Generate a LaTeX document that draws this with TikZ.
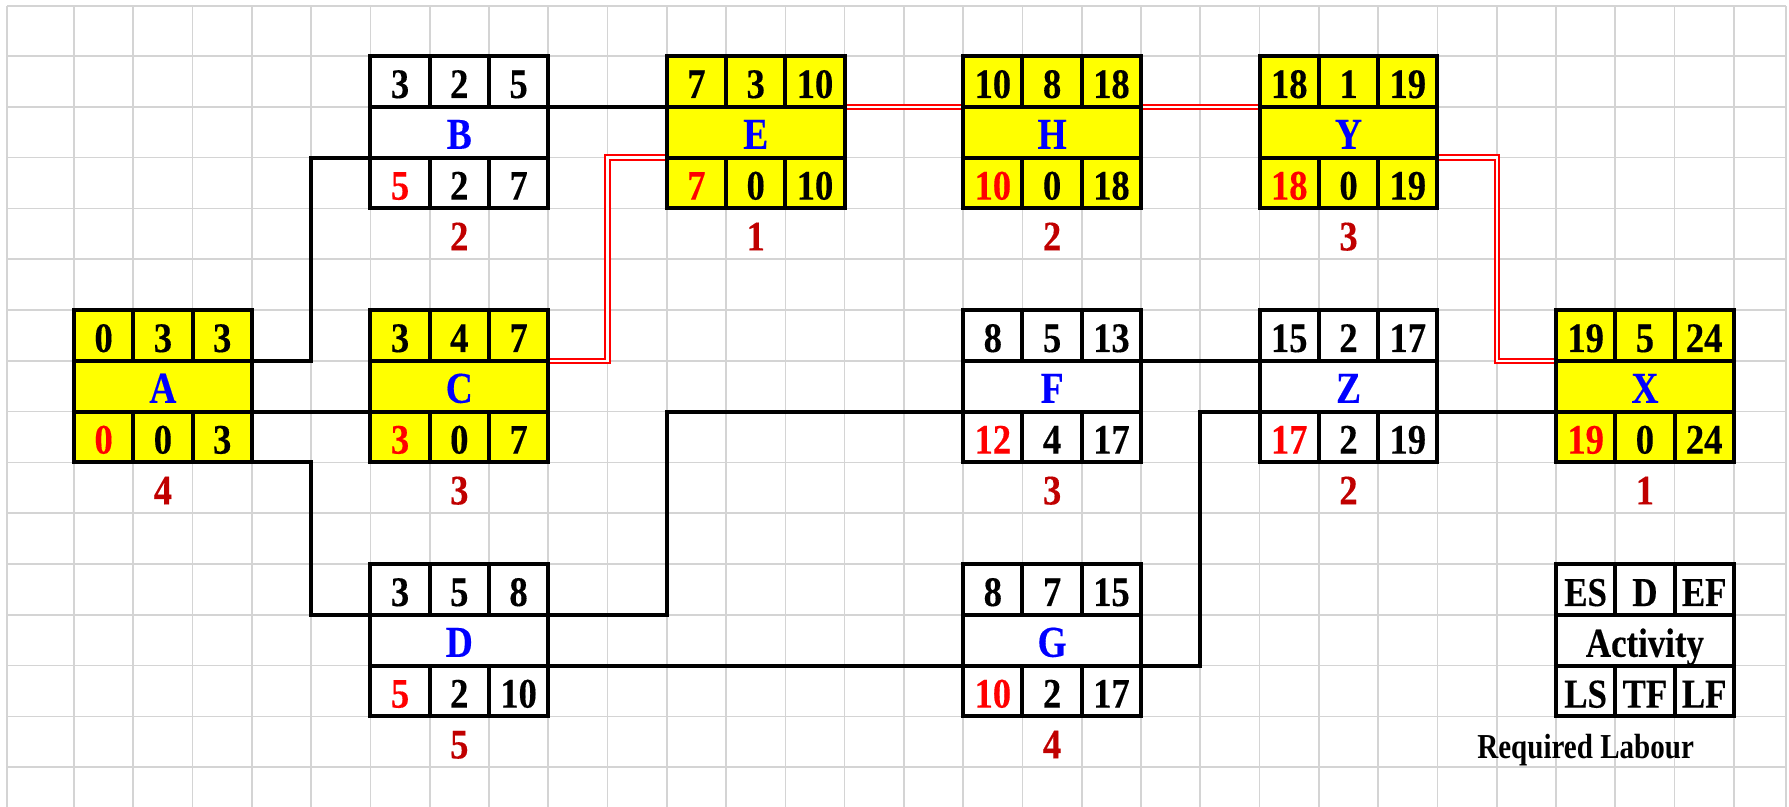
\documentclass[tikz,border=0pt]{standalone}
\usepackage{fontspec}
\setmainfont{Liberation Serif}
% condensed bold serif for the numbers and the labels
\newfontfamily\numfont[FakeStretch=0.87, FakeBold=0.3]{Liberation Serif}
\newfontfamily\txtfont[FakeStretch=0.85, FakeBold=0.3]{Liberation Serif}
\newfontfamily\notefont[FakeStretch=0.83]{Liberation Serif}
\usetikzlibrary{calc}

\definecolor{gridgray}{HTML}{D4D4D4}
\definecolor{critfill}{HTML}{FFFF00}
\definecolor{actblue}{HTML}{0000FF}
\definecolor{lsred}{HTML}{FF0000}
\definecolor{labred}{HTML}{C00000}

\pgfdeclarelayer{gridlayer}
\pgfdeclarelayer{linklayer}
\pgfsetlayers{gridlayer,linklayer,main}

\tikzset{
  gridline/.style={draw=gridgray, line width=0.85pt},
  cell/.style={draw=black, line width=2pt, minimum width=29.64pt,
    minimum height=25.4pt, inner sep=0pt, outer sep=0pt, anchor=north west,
    text height=16.6pt, text depth=0pt,
    font=\numfont\bfseries\fontsize{21}{24}\selectfont},
  widecell/.style={cell, minimum width=88.92pt},
  lettertext/.style={text=actblue, font=\txtfont\bfseries\fontsize{22}{24}\selectfont},
  legendtext/.style={font=\txtfont\bfseries\fontsize{20.5}{24}\selectfont},
  labour/.style={inner sep=0pt, outer sep=0pt, text height=16.6pt, text depth=0pt,
    text=labred, font=\numfont\bfseries\fontsize{21}{24}\selectfont},
  note/.style={inner sep=0pt, outer sep=0pt, text height=16.4pt, text depth=0pt,
    font=\notefont\bfseries\fontsize{17.5}{20}\selectfont},
  link/.style={draw=black, line width=2pt},
  crit/.style={draw=lsred, line width=1pt, double=white, double distance=1.1pt},
}

\begin{document}
\begin{tikzpicture}[x=29.64pt, y=-25.4pt]
\useasboundingbox (-1.2483,-1.1024) rectangle (28.9305,14.7835);

% sheet background and cell grid
\begin{pgfonlayer}{gridlayer}
  \fill[white] (-1.2483,-1.1024) rectangle (28.9305,14.7835);
  \foreach \k in {-1.125,0,1,...,28,28.885}
    \draw[gridline] (\k,-0.984) -- (\k,14.7835);
  \foreach \k in {-0.984,0,1,...,14}
    \draw[gridline] (-1.125,\k) -- (28.885,\k);
\end{pgfonlayer}

% activity boxes: name/col/row/fill/ES/D/EF/LS/TF/LF/labour
\foreach \vn/\vi/\vj/\vf/\ves/\vdu/\vef/\vls/\vtf/\vlf/\vlab in {
  A/0/5/critfill/0/3/3/0/0/3/4,
  B/5/0/white/3/2/5/5/2/7/2,
  C/5/5/critfill/3/4/7/3/0/7/3,
  D/5/10/white/3/5/8/5/2/10/5,
  E/10/0/critfill/7/3/10/7/0/10/1,
  H/15/0/critfill/10/8/18/10/0/18/2,
  F/15/5/white/8/5/13/12/4/17/3,
  G/15/10/white/8/7/15/10/2/17/4,
  Y/20/0/critfill/18/1/19/18/0/19/3,
  Z/20/5/white/15/2/17/17/2/19/2,
  X/25/5/critfill/19/5/24/19/0/24/1}
{
  \node[cell, fill=\vf] (\vn-es) at (\vi,\vj) {\ves};
  \node[cell, fill=\vf] (\vn-du) at (\vi+1,\vj) {\vdu};
  \node[cell, fill=\vf] (\vn-ef) at (\vi+2,\vj) {\vef};
  \node[widecell, fill=\vf, lettertext] (\vn-act) at (\vi,\vj+1) {\vn};
  \node[cell, fill=\vf, text=lsred] (\vn-ls) at (\vi,\vj+2) {\vls};
  \node[cell, fill=\vf] (\vn-tf) at (\vi+1,\vj+2) {\vtf};
  \node[cell, fill=\vf] (\vn-lf) at (\vi+2,\vj+2) {\vlf};
  \node[labour] (\vn-lab) at (\vi+1.5,\vj+3.5) {\vlab};
}

% legend box
\node[cell, fill=white, legendtext] (L-es) at (25,10) {ES};
\node[cell, fill=white, legendtext] (L-du) at (26,10) {D};
\node[cell, fill=white, legendtext] (L-ef) at (27,10) {EF};
\node[widecell, fill=white, legendtext] (L-act) at (25,11) {Activity};
\node[cell, fill=white, legendtext] (L-ls) at (25,12) {LS};
\node[cell, fill=white, legendtext] (L-tf) at (26,12) {TF};
\node[cell, fill=white, legendtext] (L-lf) at (27,12) {LF};
\node[note] (L-lab) at (25.5,13.5) {Required Labour};

% precedence links; the critical path is drawn as a red double line
\begin{pgfonlayer}{linklayer}
  \draw[link] (A-ef.south east) -- ++(1,0) |- (B-act.south west);
  \draw[link] (A-act.south east) -- (C-act.south west);
  \draw[link] (A-lf.south east) -- ++(1,0) |- (D-es.south west);
  \draw[link] (B-ef.south east) -- (E-es.south west);
  \draw[crit] (C-ef.south east) -- ++(1,0) |- (E-act.south west);
  \draw[link] (D-ef.south east) -- ++(2,0) |- (F-act.south west);
  \draw[link] (D-act.south east) -- (G-act.south west);
  \draw[crit] (E-ef.south east) -- (H-es.south west);
  \draw[crit] (H-ef.south east) -- (Y-es.south west);
  \draw[crit] (Y-act.south east) -- ++(1,0) |- (X-es.south west);
  \draw[link] (F-ef.south east) -- (Z-es.south west);
  \draw[link] (G-act.south east) -- ++(1,0) |- (Z-act.south west);
  \draw[link] (Z-act.south east) -- (X-act.south west);
\end{pgfonlayer}
\end{tikzpicture}
\end{document}
